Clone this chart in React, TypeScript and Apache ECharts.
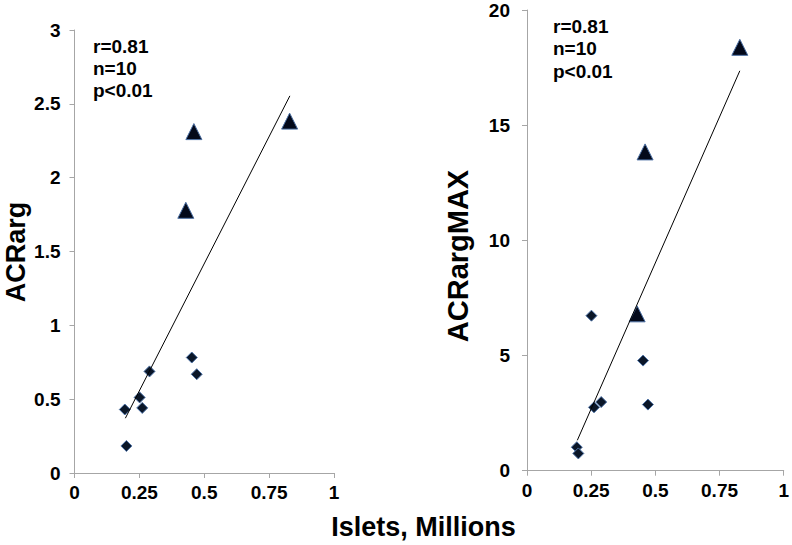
import React, { useEffect, useRef } from "react";
import * as echarts from "echarts";

// Islets (millions) for the two groups
const diamondIslets = [0.194, 0.2, 0.251, 0.261, 0.289, 0.452, 0.471];
const triangleIslets = [0.429, 0.46, 0.829];

// Left panel: ACRarg
const diamondACRarg = [0.43, 0.183, 0.512, 0.441, 0.688, 0.782, 0.669];
const triangleACRarg = [1.779, 2.312, 2.383];
const trendACRargX = [0.196, 0.83];
const trendACRargY = [0.371, 2.554];

// Right panel: ACRargMAX
const diamondACRargMAX = [1.02, 0.75, 6.73, 2.75, 2.98, 4.78, 2.87];
const triangleACRargMAX = [6.81, 13.84, 18.38];
const trendMAXX = [0.196, 0.829];
const trendMAXY = [1.32, 17.36];

const statsText = ["r=0.81", "n=10", "p<0.01"];
const xTitle = "Islets, Millions";
const yTitleLeft = "ACRarg";
const yTitleRight = "ACRargMAX";

const FONT = "'Liberation Sans', Arial, sans-serif";
const AXIS_COLOR = "#a6a6a6";

const pairs = (xs: number[], ys: number[]) => xs.map((x, i) => [x, ys[i]]);

export default function App() {
  const ref = useRef<HTMLDivElement>(null);
  useEffect(() => {
    if (!ref.current) return;
    const chart = echarts.init(ref.current, undefined, { renderer: "svg" });
    const axisCommon = {
      type: "value" as const,
      axisLine: { show: true, lineStyle: { color: AXIS_COLOR, width: 1 } },
      axisTick: { show: true, length: 5, lineStyle: { color: AXIS_COLOR } },
      splitLine: { show: false },
      axisLabel: {
        color: "#000",
        fontFamily: FONT,
        fontWeight: "bold" as const,
        fontSize: 19,
        showMinLabel: true,
        showMaxLabel: true,
      },
    };
    const diamondStyle = { color: "#0a1628", borderColor: "#4f74a8", borderWidth: 1, opacity: 1 };
    const triangleStyle = { color: "#03091a", borderColor: "#4b6fa3", borderWidth: 1, opacity: 1 };
    const textStyle = {
      fontFamily: FONT,
      fontWeight: "bold",
      fill: "#000",
    };
    chart.setOption({
      animation: false,
      grid: [
        { left: 74.5, top: 30, width: 259.5, height: 443 },
        { left: 527, top: 10, width: 262.5, height: 460.7 },
      ],
      xAxis: [
        { ...axisCommon, gridIndex: 0, min: 0, max: 1, interval: 0.25, axisLabel: { ...axisCommon.axisLabel, margin: 10 } },
        { ...axisCommon, gridIndex: 1, min: 0, max: 1, interval: 0.25, axisLabel: { ...axisCommon.axisLabel, margin: 10 } },
      ],
      yAxis: [
        { ...axisCommon, gridIndex: 0, min: 0, max: 3, interval: 0.5, axisLabel: { ...axisCommon.axisLabel, margin: 14 } },
        { ...axisCommon, gridIndex: 1, min: 0, max: 20, interval: 5, axisLabel: { ...axisCommon.axisLabel, margin: 17 } },
      ],
      series: [
        {
          type: "line",
          xAxisIndex: 0,
          yAxisIndex: 0,
          data: pairs(trendACRargX, trendACRargY),
          showSymbol: false,
          symbol: "none",
          lineStyle: { color: "#000", width: 1 },
          silent: true,
        },
        {
          type: "scatter",
          xAxisIndex: 0,
          yAxisIndex: 0,
          symbol: "diamond",
          symbolSize: 11,
          itemStyle: diamondStyle,
          data: pairs(diamondIslets, diamondACRarg),
        },
        {
          type: "scatter",
          xAxisIndex: 0,
          yAxisIndex: 0,
          symbol: "triangle",
          symbolSize: 16,
          itemStyle: triangleStyle,
          data: pairs(triangleIslets, triangleACRarg),
        },
        {
          type: "line",
          xAxisIndex: 1,
          yAxisIndex: 1,
          data: pairs(trendMAXX, trendMAXY),
          showSymbol: false,
          symbol: "none",
          lineStyle: { color: "#000", width: 1 },
          silent: true,
        },
        {
          type: "scatter",
          xAxisIndex: 1,
          yAxisIndex: 1,
          symbol: "diamond",
          symbolSize: 11,
          itemStyle: diamondStyle,
          data: pairs(diamondIslets, diamondACRargMAX),
        },
        {
          type: "scatter",
          xAxisIndex: 1,
          yAxisIndex: 1,
          symbol: "triangle",
          symbolSize: 16,
          itemStyle: triangleStyle,
          data: pairs(triangleIslets, triangleACRargMAX),
        },
      ],
      graphic: [
        {
          type: "text",
          left: 93,
          top: 35,
          style: { ...textStyle, text: statsText.join("\n"), fontSize: 19, lineHeight: 22 },
        },
        {
          type: "text",
          left: 553,
          top: 15,
          style: { ...textStyle, text: statsText.join("\n"), fontSize: 19, lineHeight: 22.5 },
        },
        {
          type: "text",
          x: 16,
          y: 252,
          rotation: Math.PI / 2,
          style: { ...textStyle, text: yTitleLeft, fontSize: 27, align: "center", verticalAlign: "middle" },
        },
        {
          type: "text",
          x: 458,
          y: 256,
          rotation: Math.PI / 2,
          style: { ...textStyle, text: yTitleRight, fontSize: 29, align: "center", verticalAlign: "middle" },
        },
        {
          type: "text",
          x: 423.5,
          y: 527,
          style: { ...textStyle, text: xTitle, fontSize: 27, align: "center", verticalAlign: "middle" },
        },
      ],
    });
    return () => chart.dispose();
  }, []);
  return (
    <div
      ref={ref}
      style={{ position: "fixed", left: 0, top: 0, width: 792, height: 545, background: "#fff" }}
    />
  );
}
